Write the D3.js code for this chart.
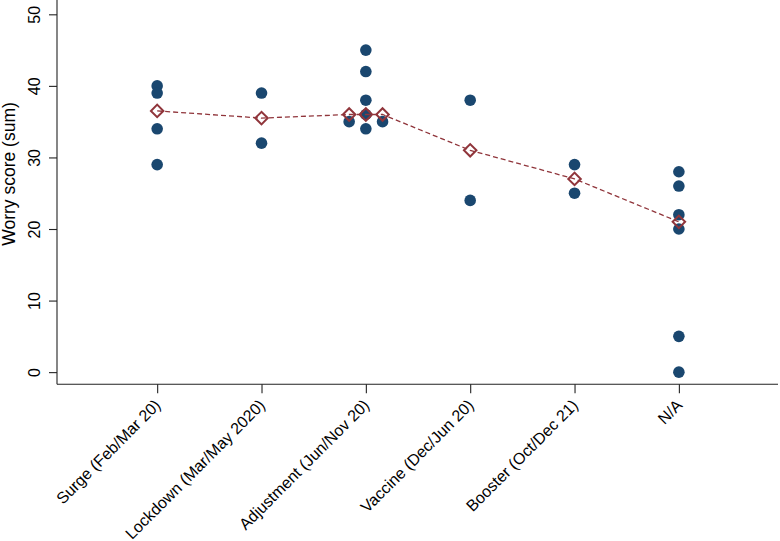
<!DOCTYPE html>
<html>
<head>
<meta charset="utf-8">
<script src="https://cdn.jsdelivr.net/npm/d3@7"></script>
<style>
  body { margin: 0; background: #fff; }
  svg { display: block; font-family: "Liberation Sans", Arial, sans-serif; }
</style>
</head>
<body>
<svg id="chart" width="780" height="541"></svg>
<script>
// ---- data ----
const categories = ["Surge (Feb/Mar 20)", "Lockdown (Mar/May 2020)", "Adjustment (Jun/Nov 20)",
                    "Vaccine (Dec/Jun 20)", "Booster (Oct/Dec 21)", "N/A"];
const categoryPos = [1, 2, 3, 4, 5, 6];
const yTicks = [0, 10, 20, 30, 40, 50];

// individual scores (x position, value)
const pointX = [1, 1, 1, 1,
                2, 2,
                2.84, 3, 3, 3, 3, 3, 3.16,
                4, 4,
                5, 5,
                6, 6, 6, 6, 6, 6];
const pointY = [40, 39, 34, 29,
                39, 32,
                35, 45, 42, 38, 36, 34, 35,
                38, 24,
                29, 25,
                28, 26, 22, 20, 5, 0];

// mean scores
const meanX = [1, 2, 2.84, 3, 3.16, 4, 5, 6];
const meanY = [36.5, 35.5, 36, 36, 36, 31, 27, 21];

// ---- chart ----
const svg = d3.select("#chart");
const navy = "#1a476f", maroon = "#90353b";

const x = d3.scaleLinear().domain([0.04, 6.95]).range([57, 778]);
const y = d3.scaleLinear().domain([-1.7, 52]).range([384.3, 0]);

// y axis
const yAxis = svg.append("g").attr("transform", "translate(57,0)")
  .call(d3.axisLeft(y).tickValues(yTicks).tickSize(8).tickFormat(d3.format("d")));
yAxis.select(".domain").attr("d", `M0,${y.range()[1]}V${y.range()[0]}`);
yAxis.selectAll(".tick text")
  .attr("font-size", 16).attr("fill", "#000")
  .attr("x", 0).attr("y", 0).attr("dy", null)
  .attr("text-anchor", "middle")
  .attr("transform", "translate(-17,0) rotate(-90)");

// x axis
const xAxis = svg.append("g").attr("transform", "translate(0,384.3)")
  .call(d3.axisBottom(x).tickValues(categoryPos).tickSize(9)
    .tickFormat((d, i) => categories[i]));
xAxis.select(".domain").attr("d", `M${x.range()[0]},0H${x.range()[1]}`);
xAxis.selectAll(".tick text")
  .attr("font-size", 16).attr("fill", "#000")
  .attr("text-anchor", "end")
  .attr("y", 0).attr("x", 0).attr("dy", "0.35em")
  .attr("transform", "translate(0,18) rotate(-45)");

svg.selectAll(".domain, .tick line").attr("stroke", "#222").attr("stroke-width", 1.1);

// y title
svg.append("text")
  .attr("transform", "translate(15,174) rotate(-90)")
  .attr("text-anchor", "middle")
  .attr("font-size", 17.5)
  .attr("fill", "#000")
  .text("Worry score (sum)");

// points
svg.append("g").selectAll("circle")
  .data(pointX.map((px, i) => [px, pointY[i]]))
  .join("circle")
  .attr("cx", d => x(d[0])).attr("cy", d => y(d[1]))
  .attr("r", 5.8).attr("fill", navy);

// mean line
const means = meanX.map((mx, i) => [mx, meanY[i]]);
svg.append("path")
  .datum(means)
  .attr("d", d3.line().x(d => x(d[0])).y(d => y(d[1])))
  .attr("fill", "none").attr("stroke", maroon)
  .attr("stroke-width", 1.3).attr("stroke-dasharray", "5,3");

// mean diamonds
svg.append("g").selectAll("path")
  .data(means)
  .join("path")
  .attr("d", d3.symbol(d3.symbolSquare, 78))
  .attr("transform", d => `translate(${x(d[0])},${y(d[1])}) rotate(45)`)
  .attr("fill", "none").attr("stroke", maroon).attr("stroke-width", 2);
</script>
</body>
</html>
